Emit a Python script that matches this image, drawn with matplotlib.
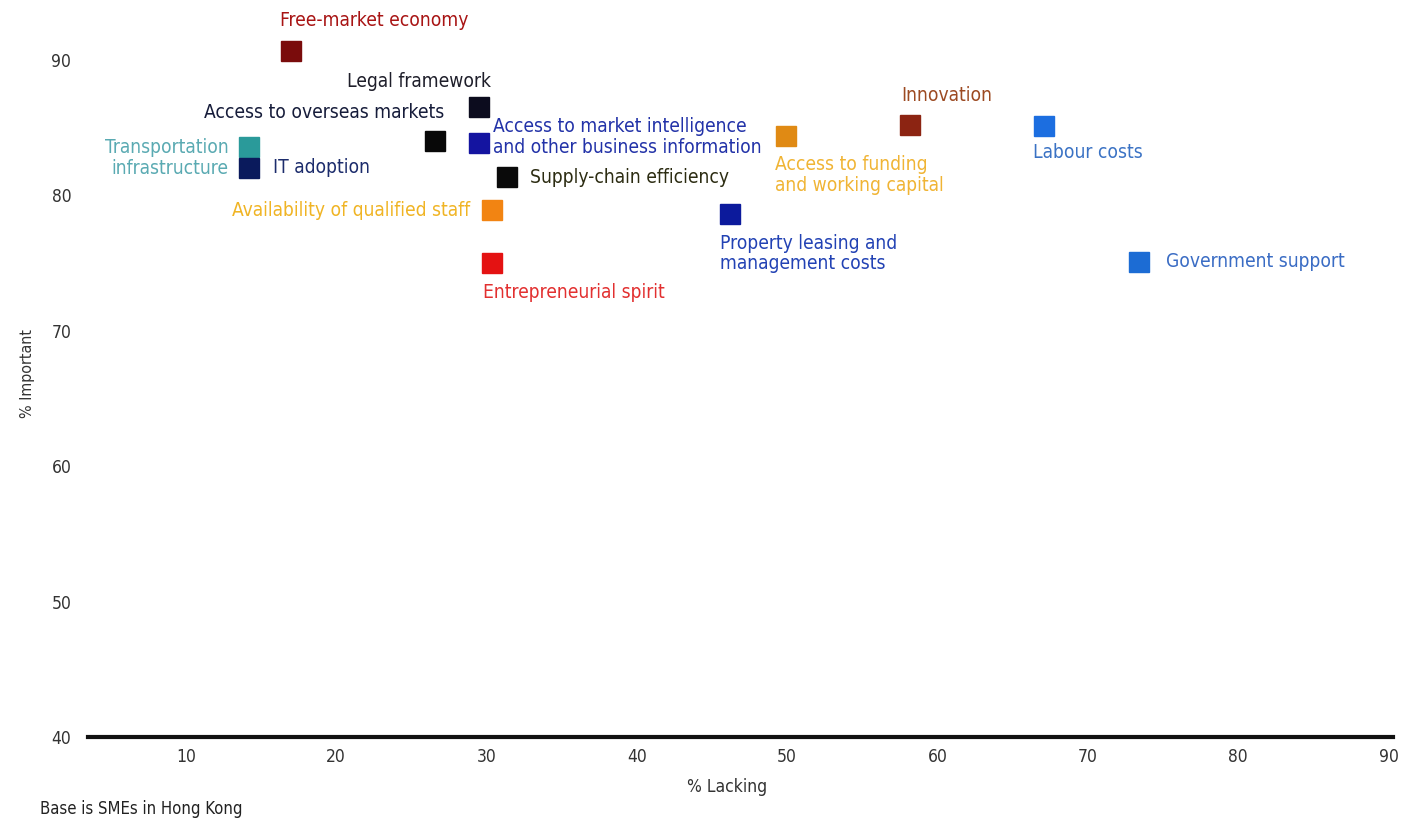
import matplotlib
matplotlib.use("Agg")
import matplotlib.pyplot as plt

# Survey factors: share of SMEs rating a factor as lacking vs. important
factors = [
    "Free-market economy",
    "Legal framework",
    "Access to overseas markets",
    "Access to market intelligence\nand other business information",
    "Transportation\ninfrastructure",
    "IT adoption",
    "Supply-chain efficiency",
    "Availability of qualified staff",
    "Entrepreneurial spirit",
    "Property leasing and\nmanagement costs",
    "Access to funding\nand working capital",
    "Innovation",
    "Labour costs",
    "Government support",
]
lacking = [17.0, 29.5, 26.6, 29.5, 14.2, 14.2, 31.4, 30.4, 30.4, 46.2, 49.9, 58.2, 67.1, 73.4]
important = [90.7, 86.5, 84.0, 83.9, 83.6, 82.0, 81.4, 78.9, 75.0, 78.6, 84.4, 85.2, 85.1, 75.1]

marker_colors = ["#7a0c0c", "#0c0c1e", "#080808", "#1414a0", "#2a9a9a", "#0a1a5c",
                 "#0a0a0a", "#f28412", "#e41212", "#0c1a9c", "#e08a14", "#8c2412",
                 "#1c6ee0", "#1c6cd4"]
label_colors = ["#a81414", "#1e1e2a", "#161c3a", "#2232a8", "#5aaab2", "#1c2c6c",
                "#2c2c12", "#f0b424", "#e23030", "#2242b4", "#f0b434", "#9c4a22",
                "#3a72c4", "#3a6cc4"]
# label placement: (dx, dy) in pixels from the marker, horizontal alignment
label_pos = [(-11, 30, "left"), (12, 26, "right"), (9, 29, "right"), (14, 6, "left"),
             (-20, -11, "right"), (24, 1, "left"), (23, -1, "left"), (-22, 0, "right"),
             (-9, -29, "left"), (-10, -39, "left"), (-11, -39, "left"), (-9, 30, "left"),
             (-11, -26, "left"), (27, 0, "left")]

x_ticks = [10, 20, 30, 40, 50, 60, 70, 80, 90]
y_ticks = [40, 50, 60, 70, 80, 90]

plt.rcParams["font.family"] = ["DejaVu Sans"]
plt.rcParams["font.stretch"] = "condensed"

W, H = 1403, 819
fig = plt.figure(figsize=(W / 100, H / 100), dpi=100)
ax = fig.add_axes([88 / W, (H - 737) / H, (1393 - 88) / W, (737 - 10) / H])
ax.set_xlim(3.5, 90.3)
ax.set_ylim(40, 93.7)

for s in ["top", "right", "left"]:
    ax.spines[s].set_visible(False)
ax.spines["bottom"].set_linewidth(3)
ax.spines["bottom"].set_color("#111111")

ax.set_xticks(x_ticks)
ax.set_yticks(y_ticks)
ax.tick_params(axis="both", length=0, labelsize=12.5, colors="#333333")
ax.tick_params(axis="x", pad=8)
ax.tick_params(axis="y", pad=12)

for xv, yv, name, mc, lc, (dx, dy, ha) in zip(lacking, important, factors,
                                              marker_colors, label_colors, label_pos):
    ax.plot([xv], [yv], marker="s", markersize=14.5, color=mc, linestyle="none", zorder=3)
    ax.annotate(name, (xv, yv), xytext=(dx, dy), textcoords="offset pixels",
                ha=ha, va="center", fontsize=13.8, color=lc, linespacing=1.12)

ax.set_xlabel("% Lacking", fontsize=12.5, color="#333333")
ax.xaxis.set_label_coords((727 - 88) / (1393 - 88), -(787 - 737) / (737 - 10))
ax.xaxis.label.set_va("center")
ax.set_ylabel("% Important", fontsize=11.5, color="#333333", labelpad=12)
fig.text(40 / W, 1 - 809 / H, "Base is SMEs in Hong Kong", fontsize=12,
         color="#222222", ha="left", va="center")

fig.savefig("out.png", dpi=100)
